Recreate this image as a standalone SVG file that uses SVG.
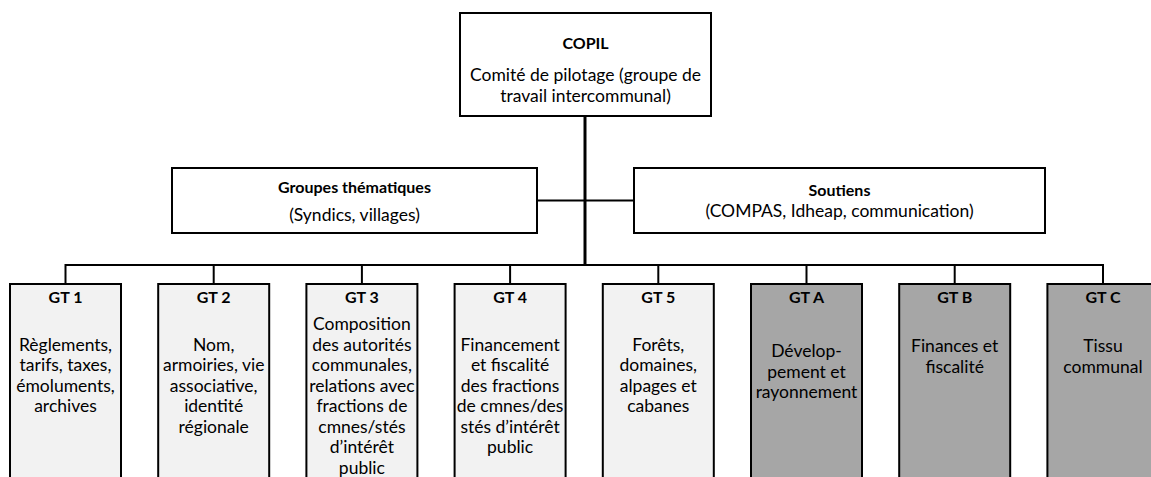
<svg xmlns="http://www.w3.org/2000/svg" width="1151" height="477" viewBox="0 0 1151 477">
<style>
  .box { fill: #ffffff; stroke: #000000; stroke-width: 2; }
  .gt { fill: #f2f2f2; stroke: #000000; stroke-width: 2; }
  .gtd { fill: #a6a6a6; stroke: #000000; stroke-width: 2; }
  .ln { stroke: #000000; stroke-width: 2; fill: none; }
  .trunk { stroke: #000000; stroke-width: 3; fill: none; }
  text { font-family: Lato, "Liberation Sans", sans-serif; font-size: 17.5px; fill: #000000; text-anchor: middle; }
  .b { font-weight: bold; font-size: 16px; }
</style>
<rect width="1151" height="477" fill="#ffffff"/>
<g id="connectors">
  <line class="trunk" x1="585" y1="116" x2="585" y2="265"/>
  <line class="ln" x1="537" y1="200.5" x2="634" y2="200.5"/>
  <line class="ln" x1="65.5" y1="265" x2="1103" y2="265"/>
  <line class="ln" x1="65.5" y1="264" x2="65.5" y2="284"/>
  <line class="ln" x1="213.7" y1="265" x2="213.7" y2="284"/>
  <line class="ln" x1="361.9" y1="265" x2="361.9" y2="284"/>
  <line class="ln" x1="510.1" y1="265" x2="510.1" y2="284"/>
  <line class="ln" x1="658.3" y1="265" x2="658.3" y2="284"/>
  <line class="ln" x1="806.5" y1="265" x2="806.5" y2="284"/>
  <line class="ln" x1="954.7" y1="265" x2="954.7" y2="284"/>
  <line class="ln" x1="1103" y1="264" x2="1103" y2="284"/>
</g>
<g id="copil">
  <rect class="box" x="460" y="13" width="251" height="103"/>
  <text class="b" x="585.5" y="49">COPIL</text>
  <text x="585.5" y="80.5">Comité de pilotage (groupe de</text>
  <text x="585.5" y="101.5">travail intercommunal)</text>
</g>
<g id="groupes">
  <rect class="box" x="172" y="168" width="365" height="65"/>
  <text class="b" x="354.5" y="193">Groupes thématiques</text>
  <text x="354.5" y="220.5">(Syndics, villages)</text>
</g>
<g id="soutiens">
  <rect class="box" x="634" y="168" width="411" height="65"/>
  <text class="b" x="839.5" y="196">Soutiens</text>
  <text x="839.5" y="216.5">(COMPAS, Idheap, communication)</text>
</g>
<g id="gt1">
  <rect class="gt" x="10" y="284" width="111" height="210"/>
  <text class="b" x="65.5" y="303">GT 1</text>
  <text x="65.5" y="350.5">Règlements,</text>
  <text x="65.5" y="371">tarifs, taxes,</text>
  <text x="65.5" y="391.5">émoluments,</text>
  <text x="65.5" y="412">archives</text>
</g>
<g id="gt2">
  <rect class="gt" x="158.2" y="284" width="111" height="210"/>
  <text class="b" x="213.7" y="303">GT 2</text>
  <text x="213.7" y="350.5">Nom,</text>
  <text x="213.7" y="371">armoiries, vie</text>
  <text x="213.7" y="391.5">associative,</text>
  <text x="213.7" y="412">identité</text>
  <text x="213.7" y="432.5">régionale</text>
</g>
<g id="gt3">
  <rect class="gt" x="306.4" y="284" width="111" height="210"/>
  <text class="b" x="361.9" y="303">GT 3</text>
  <text x="361.9" y="330">Composition</text>
  <text x="361.9" y="350.5">des autorités</text>
  <text x="361.9" y="371">communales,</text>
  <text x="361.9" y="391.5">relations avec</text>
  <text x="361.9" y="412">fractions de</text>
  <text x="361.9" y="432.5">cmnes/stés</text>
  <text x="361.9" y="453">d’intérêt</text>
  <text x="361.9" y="473.5">public</text>
</g>
<g id="gt4">
  <rect class="gt" x="454.6" y="284" width="111" height="210"/>
  <text class="b" x="510.1" y="303">GT 4</text>
  <text x="510.1" y="350.5">Financement</text>
  <text x="510.1" y="371">et fiscalité</text>
  <text x="510.1" y="391.5">des fractions</text>
  <text x="510.1" y="412">de cmnes/des</text>
  <text x="510.1" y="432.5">stés d’intérêt</text>
  <text x="510.1" y="453">public</text>
</g>
<g id="gt5">
  <rect class="gt" x="602.8" y="284" width="111" height="210"/>
  <text class="b" x="658.3" y="303">GT 5</text>
  <text x="658.3" y="350.5">Forêts,</text>
  <text x="658.3" y="371">domaines,</text>
  <text x="658.3" y="391.5">alpages et</text>
  <text x="658.3" y="412">cabanes</text>
</g>
<g id="gta">
  <rect class="gtd" x="751" y="284" width="111" height="210"/>
  <text class="b" x="806.5" y="303">GT A</text>
  <text x="806.5" y="357">Dévelop-</text>
  <text x="806.5" y="377.5">pement et</text>
  <text x="806.5" y="398">rayonnement</text>
</g>
<g id="gtb">
  <rect class="gtd" x="899.2" y="284" width="111" height="210"/>
  <text class="b" x="954.7" y="303">GT B</text>
  <text x="954.7" y="352">Finances et</text>
  <text x="954.7" y="372.5">fiscalité</text>
</g>
<g id="gtc">
  <rect class="gtd" x="1047.4" y="284" width="111" height="210"/>
  <text class="b" x="1103" y="303">GT C</text>
  <text x="1103" y="352">Tissu</text>
  <text x="1103" y="372.5">communal</text>
</g>
</svg>
